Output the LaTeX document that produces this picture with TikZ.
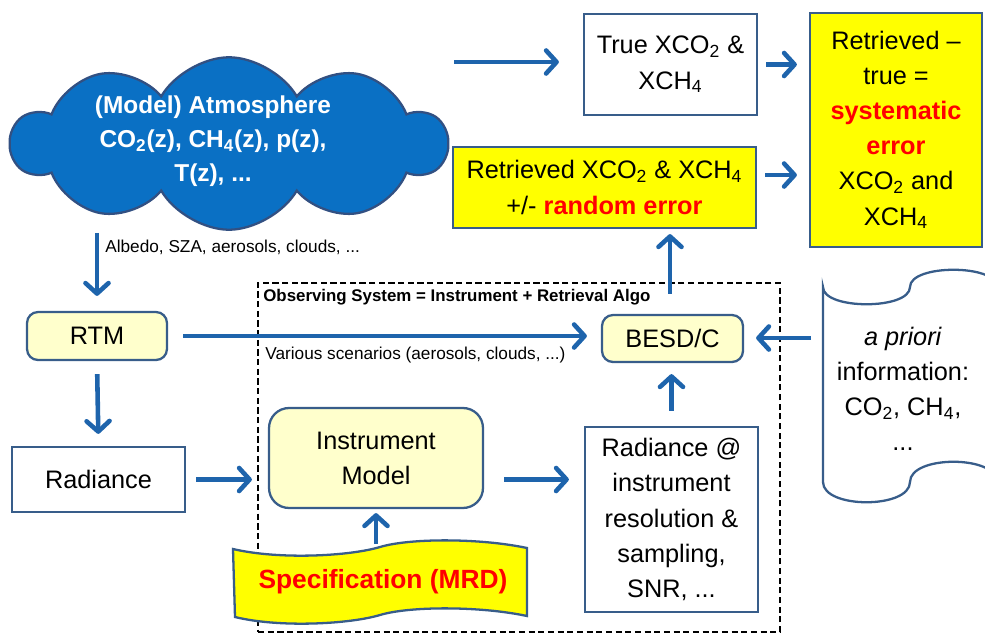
\documentclass[tikz,border=0pt]{standalone}
\usepackage{fontspec}
\setmainfont{Liberation Sans}
\usepackage{tikz}
\usetikzlibrary{arrows.meta,shapes.symbols,positioning}
\definecolor{flowblue}{RGB}{30,100,172}
\definecolor{edgeblue}{RGB}{56,93,138}
\definecolor{cloudblue}{RGB}{10,112,196}
\definecolor{cloudedge}{RGB}{50,80,130}
\definecolor{hiyellow}{RGB}{255,255,0}
\definecolor{paleyellow}{RGB}{255,255,204}
\definecolor{errred}{RGB}{255,0,0}
\tikzstyle{flow}=[draw=flowblue,line width=2.6pt,-{Straight Barb[length=2.1mm,width=4.6mm,round]}]
\tikzstyle{box} =
  [rectangle, draw=edgeblue, line width=1.3pt, fill=white, align=center, text=black]
\tikzstyle{hilite} = [box, fill=hiyellow]
\tikzstyle{module} = [box, fill=paleyellow, rounded corners=0.22cm]
\tikzstyle{atmo} =
  [shape=cloud, cloud puffs=10, cloud puff arc=120, aspect=2.5, draw=cloudedge,
   line width=1.3pt, fill=cloudblue, minimum width=8.7cm, minimum height=3.45cm]
\tikzstyle{frame} = [rectangle, draw=black, line width=1.2pt, dash pattern=on 3.5pt off 2pt]
\tikzstyle{note} = [anchor=west, inner sep=0pt, font=\fontsize{9.8}{12}\selectfont]
\tikzstyle{scroll} = [draw=edgeblue, line width=1.3pt, fill=white]
\tikzstyle{banner} = [draw=edgeblue, line width=1.3pt, fill=hiyellow]

\begin{document}
\begin{tikzpicture}[x=0.02cm, y=-0.02cm, font=\fontsize{14.4}{20}\selectfont]
  \useasboundingbox (0,0) rectangle (985,633);
  % observing system
  \node [frame, minimum width=10.44cm, minimum height=6.98cm] (obs) at (519,457.5) {};
  \node [note, anchor=north west, font=\bfseries\fontsize{9.6}{12}\selectfont]
    (obstitle) at ([xshift=0.12cm,yshift=-0.14cm]obs.north west)
    {Observing System = Instrument + Retrieval Algo};

  % model atmosphere
  \node [atmo] (atmo) at (229,143.5) {};
  \node [text=white, align=center, font=\bfseries\fontsize{13.9}{19.5}\selectfont]
    (atmotxt) at (213,141)
    {(Model) Atmosphere\\CO\textsubscript{2}(z), CH\textsubscript{4}(z), p(z),\\T(z), ...};

  \node [box, minimum width=3.46cm, minimum height=2.02cm] (truex) at (670.5,64.5)
    {True XCO\textsubscript{2} \&\\XCH\textsubscript{4}};
  \node [hilite, minimum width=3.44cm, minimum height=4.68cm] (syserr) at (896,130)
    {Retrieved –\\true =\\\textcolor{errred}{\textbf{systematic}}\\
     \textcolor{errred}{\textbf{error}}\\XCO\textsubscript{2} and\\XCH\textsubscript{4}};
  \node [hilite, minimum width=6.06cm, minimum height=1.62cm] (retr) at (604.5,187.5)
    {Retrieved XCO\textsubscript{2} \& XCH\textsubscript{4}\\
     +/- \textcolor{errred}{\textbf{random error}}};

  \node [module, minimum width=2.8cm, minimum height=0.96cm] (rtm) at (97,336) {RTM};
  \node [module, minimum width=2.82cm, minimum height=0.94cm] (besd) at (672.5,338.5) {BESD/C};
  \node [box, minimum width=3.46cm, minimum height=1.3cm] (rad) at (98.5,479.5) {Radiance};
  \node [module, rounded corners=0.4cm, minimum width=4.28cm, minimum height=2.0cm]
    (instr) at (376,458) {Instrument\\Model};
  \node [box, minimum width=3.46cm, minimum height=3.7cm] (radat) at (671.5,519.5)
    {Radiance @\\instrument\\resolution \&\\sampling,\\SNR, ...};

  \node [note] (albedo) at (105,247) {Albedo, SZA, aerosols, clouds, ...};
  \node [note] (scen) at (265,355) {Various scenarios (aerosols, clouds, ...)};

  % a priori scroll
  \filldraw [scroll] (823,287) .. controls (823,310) and (910,310) .. (910,287)
    .. controls (910,264) and (997,264) .. (997,287) -- (997,482)
    .. controls (997,455) and (910,455) .. (910,482)
    .. controls (910,509) and (823,509) .. (823,482) -- cycle;
  \node [align=center] (apri) at (903,389)
    {\textit{a priori}\\information:\\CO\textsubscript{2}, CH\textsubscript{4},\\...};
  \coordinate (apin) at (811,338);

  % specification banner
  \filldraw [banner] (233,549) .. controls (280,560) and (350,556) .. (380,547)
    .. controls (410,538) and (480,538) .. (527,548) -- (527,616)
    .. controls (480,606) and (410,606) .. (380,615)
    .. controls (350,624) and (280,628) .. (235,617) -- cycle;
  \node [text=errred, font=\bfseries\fontsize{15}{18}\selectfont] (spec) at (383,582)
    {Specification (MRD)};
  \coordinate (spectop) at (376,544);

  \coordinate (atmoout) at (454,62);
  \draw [flow, shorten >=0.48cm] (atmoout) -- (atmoout -| truex.west);
  \draw [flow, shorten <=0.16cm, shorten >=0.24cm] (truex.east) -- (truex.east -| syserr.west);
  \draw [flow, shorten <=0.16cm, shorten >=0.24cm]
    ([yshift=0.25cm]retr.east) -- ([yshift=0.25cm]retr.east -| syserr.west);
  \draw [flow, shorten <=0.4cm, shorten >=0.1cm]
    ([xshift=-0.05cm]besd.north) -- ([xshift=-0.05cm]besd.north |- retr.south);
  \draw [flow, shorten <=0.04cm, shorten >=0.3cm] (atmo.south -| rtm.north) -- (rtm.north);
  \draw [flow, shorten <=0.3cm, shorten >=0.28cm] (rtm.east) -- (rtm.east -| besd.west);
  \draw [flow, shorten >=0.24cm] (apin) -- (apin -| besd.east);
  \draw [flow, shorten <=0.26cm, shorten >=0.24cm] (rtm.south) -- (rad.north);
  \draw [flow, shorten <=0.2cm, shorten >=0.32cm] (rad.east) -- (rad.east -| instr.west);
  \draw [flow, shorten <=0.4cm, shorten >=0.3cm] (instr.east |- rad.east) -- (radat.west |- rad.east);
  \draw [flow, shorten <=0.3cm, shorten >=0.22cm] (radat.north) -- (radat.north |- besd.south);
  \draw [flow, shorten >=0.08cm] (spectop) -- (spectop |- instr.south);
\end{tikzpicture}
\end{document}
